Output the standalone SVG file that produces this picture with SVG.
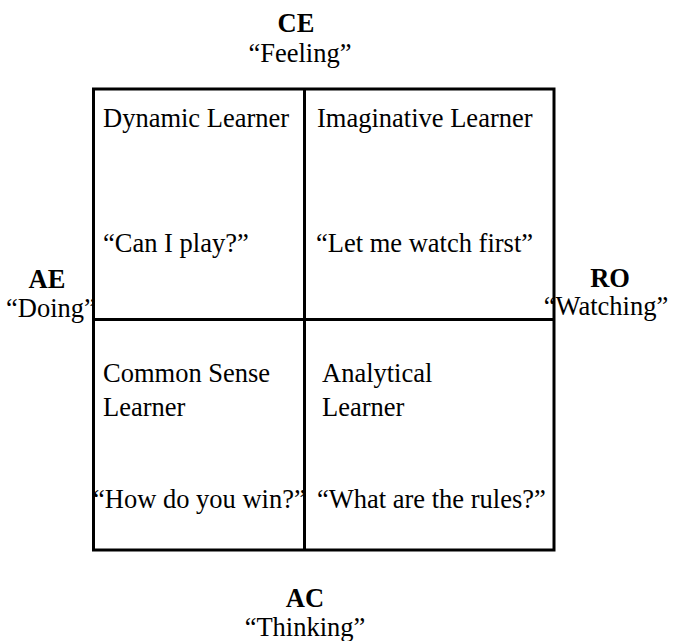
<svg xmlns="http://www.w3.org/2000/svg" width="673" height="641" viewBox="0 0 673 641">
<style>
text{font-family:"Liberation Serif","Times New Roman",serif;font-size:26.5px;fill:#000}
.b{font-weight:bold}
.m{text-anchor:middle}
.ln{stroke:#000;stroke-width:3;fill:none}
</style>
<rect width="673" height="641" fill="#fff"/>
<g id="connectors">
<rect class="ln" x="93.5" y="89" width="460.5" height="461"/>
<line class="ln" x1="304.5" y1="89" x2="304.5" y2="550"/>
<line class="ln" x1="93.5" y1="319.5" x2="554" y2="319.5"/>
</g>
<g id="dynamic">
<text x="103" y="127">Dynamic Learner</text>
<text x="103" y="252">“Can I play?”</text>
</g>
<g id="imaginative">
<text x="317" y="127">Imaginative Learner</text>
<text x="316" y="252">“Let me watch first”</text>
</g>
<g id="commonsense">
<text x="103" y="382">Common Sense</text>
<text x="103" y="416">Learner</text>
<text x="93" y="508">“How do you win?”</text>
</g>
<g id="analytical">
<text x="322" y="382">Analytical</text>
<text x="322" y="416">Learner</text>
<text x="317" y="508">“What are the rules?”</text>
</g>
<g id="ce">
<text class="b m" x="296" y="32">CE</text>
<text class="m" x="300" y="62">“Feeling”</text>
</g>
<g id="ae">
<text class="b m" x="47" y="288">AE</text>
<text class="m" x="51" y="317">“Doing”</text>
</g>
<g id="ro">
<text class="b m" x="610" y="287">RO</text>
<text class="m" x="606" y="315">“Watching”</text>
</g>
<g id="ac">
<text class="b m" x="305" y="607">AC</text>
<text class="m" x="305" y="636">“Thinking”</text>
</g>
</svg>
